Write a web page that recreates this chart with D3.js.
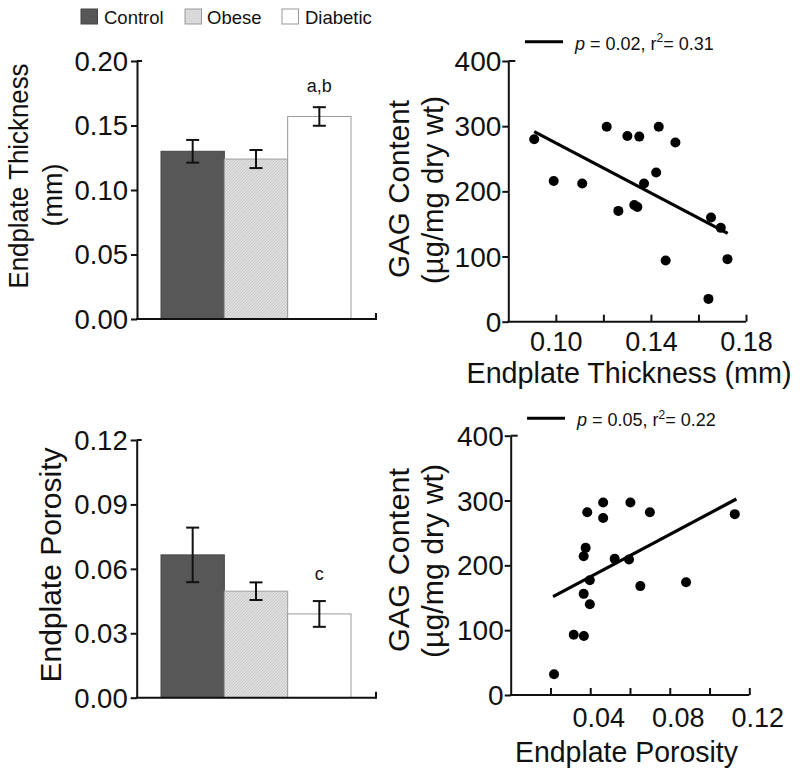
<!DOCTYPE html>
<html>
<head>
<meta charset="utf-8">
<script src="https://cdn.jsdelivr.net/npm/d3@7"></script>
<style>
  body { margin: 0; background: #fff; }
  svg { display: block; }
  text { font-family: "Liberation Sans", Arial, Helvetica, sans-serif; fill: #111; }
</style>
</head>
<body>
<svg id="chart" width="800" height="772"></svg>
<script>
// ---------------- DATA ----------------
const groups = ["Control", "Obese", "Diabetic"];
const thicknessMean = [0.130, 0.124, 0.157];
const thicknessErr  = [0.0088, 0.0070, 0.0072];
const thicknessLetters = ["", "", "a,b"];
const porosityMean = [0.0665, 0.0496, 0.0390];
const porosityErr  = [0.0127, 0.0041, 0.0060];
const porosityLetters = ["", "", "c"];

const thicknessTicks = [0, 0.05, 0.10, 0.15, 0.20];
const porosityTicks  = [0, 0.03, 0.06, 0.09, 0.12];
const gagTicks = [0, 100, 200, 300, 400];
const thickXTicks = [0.10, 0.12, 0.14, 0.16, 0.18];
const thickXLabels = [0.10, 0.14, 0.18];
const poroXTicks = [0.02, 0.04, 0.06, 0.08, 0.10, 0.12];
const poroXLabels = [0.04, 0.08, 0.12];

// top-right scatter: endplate thickness vs GAG
const thicknessX = [0.0909, 0.0991, 0.1111, 0.1214, 0.1301, 0.1351, 0.1263, 0.1330, 0.1343,
                    0.1371, 0.1422, 0.1433, 0.1503, 0.1462, 0.1653, 0.1694, 0.1722, 0.1642];
const gagTop     = [280, 216, 212, 299, 285, 284, 170, 179, 176,
                    212, 229, 299, 275, 94, 160, 144, 96, 35];
const thicknessFitX = [0.0909, 0.1723];
const thicknessFitY = [291.6, 135.5];

// bottom-right scatter: endplate porosity vs GAG
const porosityX = [0.0218, 0.0317, 0.0368, 0.0367, 0.0398, 0.0398, 0.0367, 0.0377, 0.0385,
                   0.0465, 0.0465, 0.0523, 0.0595, 0.0602, 0.0652, 0.0700, 0.0882, 0.1127];
const gagBottom = [32, 93, 91, 156, 140, 177, 214, 227, 282,
                   297, 273, 210, 209, 297, 168, 282, 174, 279];
const porosityFitX = [0.0213, 0.1135];
const porosityFitY = [151.7, 302.3];

// ---------------- DRAW ----------------
const svg = d3.select("#chart");
const defs = svg.append("defs");
const pat = defs.append("pattern").attr("id", "hatch").attr("patternUnits", "userSpaceOnUse")
  .attr("width", 3).attr("height", 3);
pat.append("rect").attr("width", 3).attr("height", 3).attr("fill", "#dedede");
pat.append("path").attr("d", "M0,3 L3,0").attr("stroke", "#c4c4c4").attr("stroke-width", 0.8);

const fills = { Control: "#575757", Obese: "url(#hatch)", Diabetic: "#ffffff" };
const strokes = { Control: "#444", Obese: "#a0a0a0", Diabetic: "#9a9a9a" };
const swatchFills = { Control: "#575757", Obese: "#d9d9d9", Diabetic: "#ffffff" };

// Legend (top)
const legendX = { Control: [81, 104], Obese: [185, 207], Diabetic: [282, 305] };
groups.forEach(g => {
  svg.append("rect").attr("x", legendX[g][0]).attr("y", 9).attr("width", 16.5).attr("height", 15)
    .attr("fill", swatchFills[g]).attr("stroke", g === "Control" ? "#444" : "#999").attr("stroke-width", 1);
  svg.append("text").attr("x", legendX[g][1]).attr("y", 24).attr("font-size", 18.5).text(g);
});

function styleAxis(sel) {
  sel.selectAll(".domain").attr("stroke", "#111").attr("stroke-width", 2);
  sel.selectAll(".tick line").attr("stroke", "#111").attr("stroke-width", 2);
  sel.selectAll(".tick text").attr("fill", "#111").attr("font-family", "Liberation Sans, Arial, sans-serif");
}

function barPanel(opts) {
  const y = d3.scaleLinear().domain(opts.domain).range([opts.y0, opts.y1]);
  const x = d3.scaleBand().domain(groups).range([161, 351]).paddingInner(0).paddingOuter(0);
  const g = svg.append("g");
  g.selectAll("rect.bar").data(groups).join("rect")
    .attr("x", d => x(d)).attr("width", x.bandwidth())
    .attr("y", (d, i) => y(opts.mean[i])).attr("height", (d, i) => y(0) - y(opts.mean[i]))
    .attr("fill", d => fills[d]).attr("stroke", d => strokes[d]).attr("stroke-width", 1);
  groups.forEach((d, i) => {
    const cx = x(d) + x.bandwidth() / 2;
    const hi = y(opts.mean[i] + opts.err[i]), lo = y(opts.mean[i] - opts.err[i]);
    g.append("line").attr("x1", cx).attr("x2", cx).attr("y1", hi).attr("y2", lo).attr("stroke", "#111").attr("stroke-width", 2);
    [hi, lo].forEach(yy => g.append("line").attr("x1", cx - 6.5).attr("x2", cx + 6.5).attr("y1", yy).attr("y2", yy)
      .attr("stroke", "#111").attr("stroke-width", 2));
    if (opts.letters[i]) {
      g.append("text").attr("x", cx).attr("y", opts.letterY).attr("text-anchor", "middle")
        .attr("font-size", 18).text(opts.letters[i]);
    }
  });
  const ax = g.append("g").attr("transform", `translate(${opts.axisX},0)`)
    .call(d3.axisLeft(y).tickValues(opts.ticks).tickFormat(d3.format(".2f")).tickSize(6).tickSizeOuter(0).tickPadding(3));
  ax.selectAll("text").attr("font-size", 27.5).attr("dy", "0.34em");
  styleAxis(ax);
  g.append("line").attr("x1", opts.axisX).attr("x2", opts.axisX + 5).attr("y1", y(opts.domain[1])).attr("y2", y(opts.domain[1]))
    .attr("stroke", "#111").attr("stroke-width", 2);
  g.append("line").attr("x1", opts.axisX - 1).attr("x2", 376).attr("y1", y(0)).attr("y2", y(0)).attr("stroke", "#111").attr("stroke-width", 2);
  g.append("line").attr("x1", 376).attr("x2", 376).attr("y1", y(0) + 1).attr("y2", y(0) - 6).attr("stroke", "#111").attr("stroke-width", 2);
}

barPanel({ domain: [0, 0.20], y0: 319, y1: 61, mean: thicknessMean, err: thicknessErr, letters: thicknessLetters,
  ticks: thicknessTicks, axisX: 137, letterY: 92 });
barPanel({ domain: [0, 0.12], y0: 697.7, y1: 440, mean: porosityMean, err: porosityErr, letters: porosityLetters,
  ticks: porosityTicks, axisX: 136.7, letterY: 580 });

function scatterPanel(opts) {
  const x = d3.scaleLinear().domain(opts.xDomain).range([opts.x0, opts.x1]);
  const y = d3.scaleLinear().domain([0, 400]).range([opts.y0, opts.y1]);
  const g = svg.append("g");
  const ay = g.append("g").attr("transform", `translate(${opts.x0},0)`)
    .call(d3.axisLeft(y).tickValues(gagTicks).tickFormat(d3.format("d")).tickSize(6).tickSizeOuter(0).tickPadding(1));
  ay.selectAll("text").attr("font-size", 28).attr("dy", "0.34em");
  styleAxis(ay);
  g.append("line").attr("x1", opts.x0).attr("x2", opts.x0 + 7).attr("y1", y(400)).attr("y2", y(400))
    .attr("stroke", "#111").attr("stroke-width", 2);
  const axx = g.append("g").attr("transform", `translate(0,${opts.y0})`)
    .call(d3.axisBottom(x).tickValues(opts.xTicks).tickSize(-7).tickSizeOuter(0).tickPadding(opts.labelPad)
      .tickFormat(d => opts.xLabels.some(v => Math.abs(v - d) < 1e-9) ? d3.format(".2f")(d) : ""));
  axx.selectAll("text").attr("font-size", 27).attr("dx", opts.labelDx).attr("dy", "0.72em");
  styleAxis(axx);
  axx.select(".domain").attr("d", `M${opts.x0 - 1},0H${opts.x1}`);
  g.append("line").attr("x1", x(opts.fitX[0])).attr("y1", y(opts.fitY[0]))
    .attr("x2", x(opts.fitX[1])).attr("y2", y(opts.fitY[1]))
    .attr("stroke", "#000").attr("stroke-width", 3.2);
  g.selectAll("circle").data(opts.xs).join("circle")
    .attr("cx", d => x(d)).attr("cy", (d, i) => y(opts.ys[i])).attr("r", 5).attr("fill", "#000");
  g.append("line").attr("x1", opts.legX).attr("x2", opts.legX + 38).attr("y1", opts.legY).attr("y2", opts.legY)
    .attr("stroke", "#000").attr("stroke-width", 3);
  const t = g.append("text").attr("x", opts.legX + 50).attr("y", opts.legY + 8).attr("font-size", 18);
  t.append("tspan").attr("font-style", "italic").text("p");
  t.append("tspan").text(` = ${opts.p}, r`);
  t.append("tspan").attr("font-size", 12).attr("dy", -7.5).text("2");
  t.append("tspan").attr("dy", 7.5).text(`= ${opts.r2}`);
}

scatterPanel({ xDomain: [0.08, 0.18], x0: 508.3, x1: 746, y0: 321.7, y1: 61, xTicks: thickXTicks, xLabels: thickXLabels,
  xs: thicknessX, ys: gagTop, fitX: thicknessFitX, fitY: thicknessFitY, labelDx: 0, labelPad: 10,
  legX: 525, legY: 41.7, p: "0.02", r2: "0.31" });
scatterPanel({ xDomain: [0, 0.12], x0: 510.7, x1: 749.3, y0: 695, y1: 435.7, xTicks: poroXTicks, xLabels: poroXLabels,
  xs: porosityX, ys: gagBottom, fitX: porosityFitX, fitY: porosityFitY, labelDx: 8, labelPad: 13,
  legX: 527, legY: 418.3, p: "0.05", r2: "0.22" });

function vTitle(txt, x, y, size, len) {
  const t = svg.append("text").attr("transform", `translate(${x},${y}) rotate(-90)`)
    .attr("text-anchor", "middle").attr("font-size", size).text(txt);
  if (len) t.attr("textLength", len).attr("lengthAdjust", "spacingAndGlyphs");
}
vTitle("Endplate Thickness", 28, 176, 27, 225);
vTitle("(mm)", 62, 195, 27);
vTitle("Endplate Porosity", 61, 565, 29, 235);
vTitle("GAG Content", 409, 189, 29, 178);
vTitle("(µg/mg dry wt)", 443, 190, 29, 188);
vTitle("GAG Content", 409, 560, 29, 184);
vTitle("(µg/mg dry wt)", 443, 561, 29, 194);

svg.append("text").attr("x", 629).attr("y", 383).attr("text-anchor", "middle").attr("font-size", 29)
  .attr("textLength", 325).attr("lengthAdjust", "spacingAndGlyphs").text("Endplate Thickness (mm)");
svg.append("text").attr("x", 626.5).attr("y", 762).attr("text-anchor", "middle").attr("font-size", 29)
  .attr("textLength", 223).attr("lengthAdjust", "spacingAndGlyphs").text("Endplate Porosity");
</script>
</body>
</html>
